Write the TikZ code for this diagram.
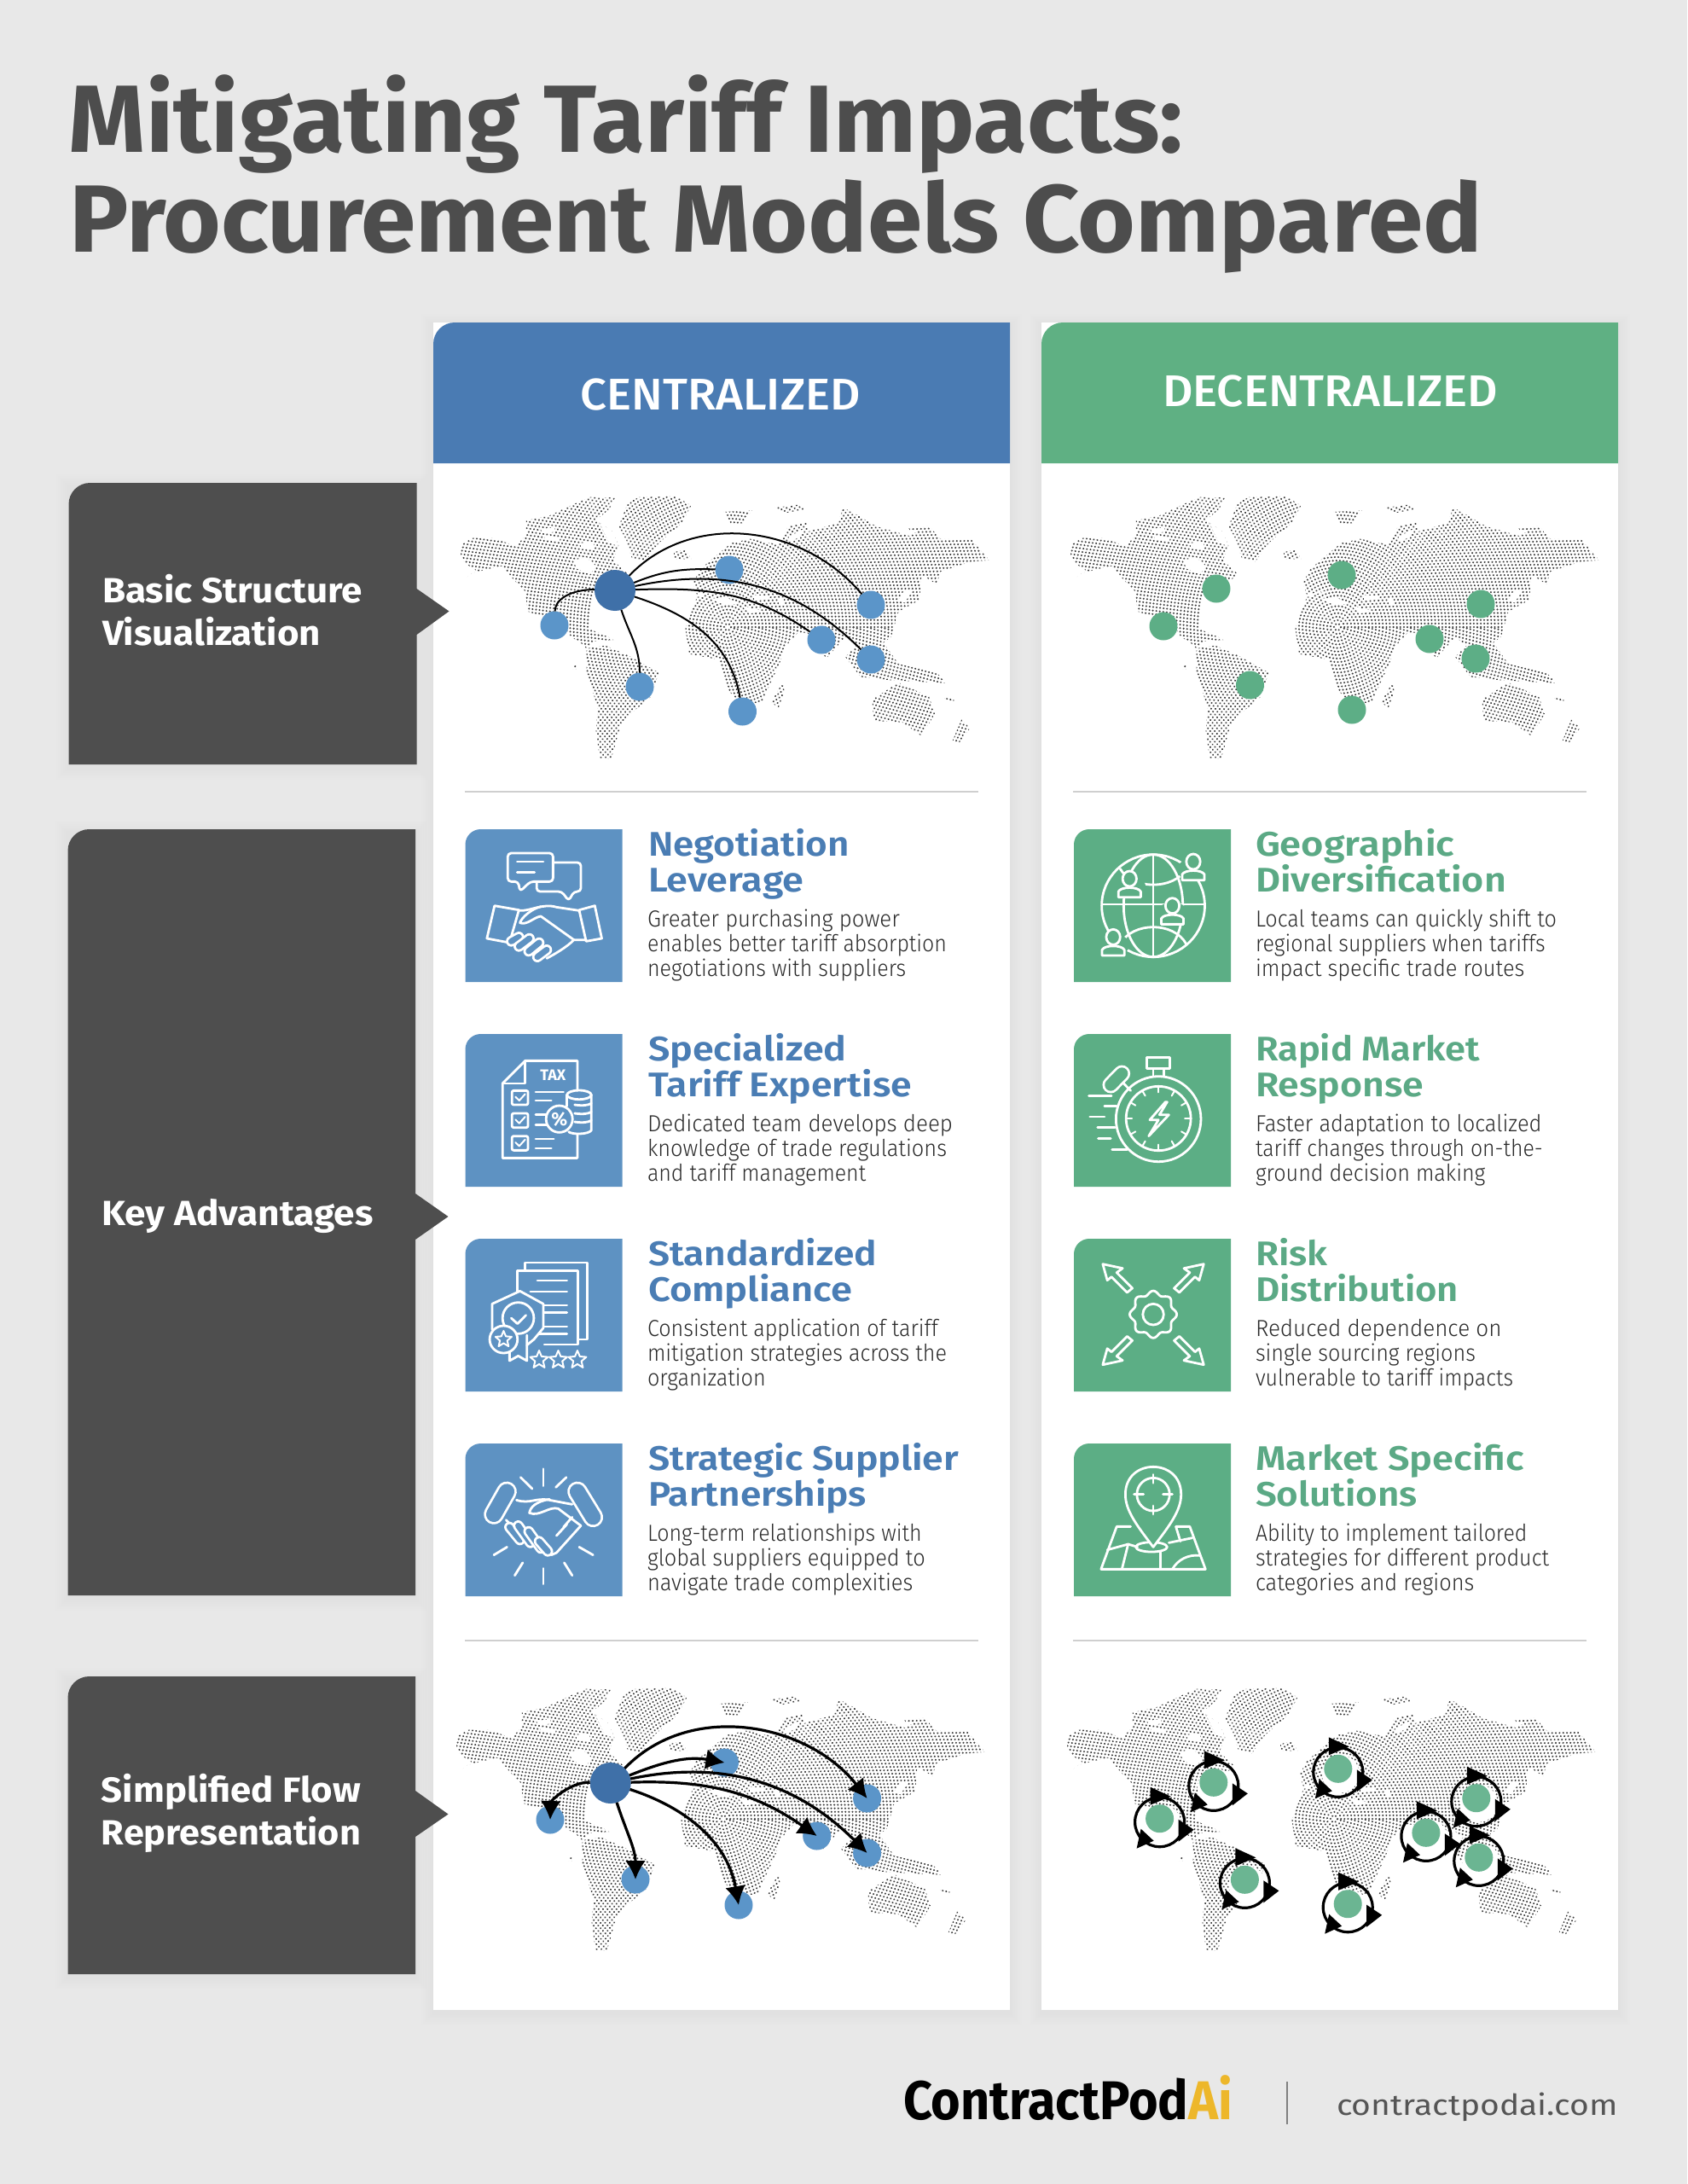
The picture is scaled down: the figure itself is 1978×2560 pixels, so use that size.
\documentclass[tikz,border=0pt]{standalone}
\usepackage{fontspec}
\usepackage{graphicx}
\usetikzlibrary{arrows.meta,calc}
\setmainfont{Fira Sans}
\newfontfamily\fBold{Fira Sans Bold}
\newfontfamily\fSemi{Fira Sans SemiBold}
\newfontfamily\fMed{Fira Sans Medium}
\newfontfamily\fLight{Fira Sans Light}
\newfontfamily\fReg{Fira Sans}
\definecolor{pagebg}{HTML}{E8E8E8}
\definecolor{darkbox}{HTML}{4E4E4E}
\definecolor{titlec}{HTML}{4D4D4D}
\definecolor{headB}{HTML}{4A7BB3}
\definecolor{headG}{HTML}{5FB083}
\definecolor{iconB}{HTML}{5E92C2}
\definecolor{iconG}{HTML}{5CAE85}
\definecolor{txtB}{HTML}{4A7DB4}
\definecolor{txtG}{HTML}{5BA985}
\definecolor{hubc}{HTML}{3F70A8}
\definecolor{leafB}{HTML}{5B95C9}
\definecolor{leafG}{HTML}{5DAE86}
\definecolor{leafG2}{HTML}{6BB592}
\definecolor{bodyc}{HTML}{2A2A2A}
\definecolor{sepc}{HTML}{CFCFCF}
\definecolor{logoy}{HTML}{EDB72A}
\definecolor{urlc}{HTML}{555555}
\definecolor{dotc}{HTML}{3C3C3C}
\tikzset{
  linetxt/.style={anchor=base west,inner sep=0pt,outer sep=0pt},
  ic/.style={draw=white,line width=1.4pt,line join=round,line cap=round},
  hubnode/.style={circle,fill=hubc,minimum size=24pt,inner sep=0pt,outer sep=0pt},
  leafblue/.style={circle,fill=leafB,minimum size=16.5pt,inner sep=0pt,outer sep=0pt},
  leafgreen/.style={circle,fill=leafG,minimum size=16.5pt,inner sep=0pt,outer sep=0pt},
  leafgreenb/.style={circle,fill=leafG2,minimum size=16.5pt,inner sep=0pt,outer sep=0pt},
  thinarc/.style={draw=black,line width=1pt},
  boldarc/.style={draw=black,line width=1.6pt,-{Latex[length=11pt,width=12pt]}},
  ringline/.style={draw=black,line width=1.6pt},
  landdots/.style={draw=dotc,line width=1.15pt,line cap=round,dash pattern=on 0.01pt off 2.05pt},
  sepline/.style={draw=sepc,line width=0.7pt},
}
\newcommand\fitw[2]{\setbox0=\hbox{#2}\pgfmathsetmacro\fitr{(#1)*0.5/\the\wd0}\scalebox{\fitr}[1]{\box0}}
\newcommand\placetxt[6]{\node[linetxt,#5] (#1) at (#2,#3) {\fitw{#4}{#6}};}
\newcommand\headBl[5]{\placetxt{#1}{#2}{#3}{#4/2.45}{text=txtB,font=\fSemi\fontsize{20}{24}\selectfont}{#5}}
\newcommand\headGr[5]{\placetxt{#1}{#2}{#3}{#4/2.45}{text=txtG,font=\fSemi\fontsize{20}{24}\selectfont}{#5}}
\newcommand\bodyln[5]{\placetxt{#1}{#2}{#3}{#4/2.45}{text=bodyc,font=\fLight\fontsize{13.6}{16}\selectfont}{#5}}
\newcommand\tlbox[6]{\fill[#1] (#2,#3+2*#6) arc[start angle=180,end angle=90,radius=#6 pt] -- (#4,#3) -- (#4,#5) -- (#2,#5) -- cycle;}
\newcommand\softshadow[5][0]{\foreach \k in {1,...,7}{\fill[black,opacity=0.0045] ($(#2,#3)+(-\k*2,-\k*2+4)$) rectangle ($(#4,#5)+(\k*2,\k*2+4)$);}}
\newcommand\worldmap[2]{%
 \begin{scope}[shift={(500+#1,560+#2)}]
  \begin{scope}[x=0.22321pt,y=-0.16667pt]
   \clip
   (90,235)--(120,212)--(175,212)--(235,240)--(262,200)--(262,150)--(320,135)--(375,100)--(430,68)--(495,70)--(480,110)--(445,150)--(490,190)--(505,240)--(490,290)--(530,340)--(510,360)--(470,370)--(440,400)--(430,450)--(425,530)--(495,570)--(440,575)--(420,600)--(405,580)--(380,560)--(360,520)--(310,490)--(265,470)--(260,400)--(230,360)--(200,310)--(165,320)--(120,335)--(90,365)--(130,325)--(100,300)--(90,270)--cycle
   (530,85)--(560,68)--(655,65)--(695,98)--(670,160)--(610,230)--(575,295)--(540,285)--(525,220)--(505,170)--cycle
   (420,600)--(470,590)--(530,625)--(610,685)--(590,770)--(545,820)--(510,870)--(485,990)--(455,985)--(445,890)--(450,810)--(420,680)--cycle
   (385,655)--(395,655)--(395,672)--(385,672)--cycle
   (680,530)--(710,420)--(770,395)--(830,410)--(870,460)--(960,490)--(975,545)--(945,590)--(925,660)--(880,790)--(820,795)--(790,740)--(770,640)--(690,620)--cycle
   (700,370)--(720,320)--(800,230)--(850,215)--(925,235)--(950,170)--(1000,155)--(1000,190)--(1080,160)--(1095,105)--(1130,130)--(1180,170)--(1270,205)--(1310,170)--(1325,178)--(1350,215)--(1430,215)--(1478,290)--(1430,295)--(1350,330)--(1340,375)--(1300,340)--(1295,430)--(1240,470)--(1220,560)--(1200,580)--(1240,655)--(1340,685)--(1365,722)--(1220,712)--(1140,700)--(1100,630)--(1130,590)--(1100,560)--(1050,635)--(1000,545)--(975,545)--(960,490)--(870,460)--(830,410)--(770,395)--(710,410)--cycle
   (1170,780)--(1240,720)--(1320,770)--(1335,830)--(1300,908)--(1250,860)--(1175,855)--cycle
   (1380,930)--(1405,850)--(1428,880)--(1400,930)--cycle
   (905,790)--(935,720)--(940,750)--(925,808)--cycle
   (650,262)--(680,250)--(695,285)--(650,287)--cycle
   (780,120)--(855,115)--(830,160)--(800,162)--cycle
   (915,105)--(975,95)--(995,110)--(940,125)--cycle
   (1265,175)--(1320,170)--(1320,182)--(1270,185)--cycle
   (1360,775)--(1385,775)--(1385,785)--(1360,785)--cycle;
   \begin{scope}[x=0.5pt,y=-0.5pt]
    \foreach \i in {1,...,90}{\draw[landdots] (353,175) circle[radius=\i*2.05pt];}
   \end{scope}
   \fill[white] (385,290)--(420,280)--(445,310)--(430,340)--(395,320)--cycle;
   \fill[white] (450,145)--(495,175)--(505,240)--(480,230)--cycle;
   \fill[white] (300,180)--(335,175)--(338,190)--(305,195)--cycle;
   \fill[white] (310,205)--(350,212)--(350,222)--(312,216)--cycle;
   \fill[white] (405,230)--(440,225)--(440,250)--(405,250)--cycle;
   \fill[white] (745,425)--(790,422)--(820,445)--(775,443)--cycle;
   \fill[white] (830,452)--(880,466)--(850,478)--cycle;
   \fill[white] (860,415)--(895,415)--(895,428)--(860,428)--cycle;
   \fill[white] (925,425)--(938,425)--(938,450)--(925,450)--cycle;
   \fill[white] (950,210)--(990,180)--(990,195)--(960,225)--cycle;
   \fill[white] (1255,395)--(1275,400)--(1255,440)--(1240,430)--cycle;
  \end{scope}
 \end{scope}}
\newcommand\icostar[3]{\draw[ic,line width=1pt] ([shift={(90:#3pt)}]#1,#2) \foreach \a/\r in {126/0.45,162/1,198/0.45,234/1,270/0.45,306/1,342/0.45,18/1,54/0.45}{-- ([shift={(\a:\r*#3pt)}]#1,#2)} -- cycle;}
\newcommand\greenring[3]{%
 \fill[white] (#2+3,#3+6) circle[radius=11pt];
 \node[leafgreenb] (#1) at (#2,#3) {};
 \begin{scope}[shift={(#1.center)}]
  \draw[ringline] (0,4) circle[radius=14.5pt];
  \fill[black] (-11,-37)--(-11,-16)--(13,-26)--cycle;
  \fill[black] (22,1)--(40,13)--(22,27)--cycle;
  \fill[black] (-27,35)--(-22,12)--(-7,26)--cycle;
 \end{scope}}
\newcommand\person[3]{% head x,y and scale 1
 \fill[iconG] (#1,#2+28) ellipse[x radius=46*#3,y radius=40*#3];
 \draw[ic,fill=iconG] (#1,#2) ellipse[x radius=20*#3,y radius=27*#3];
 \draw[ic] (#1-32*#3,#2+65*#3) -- (#1-32*#3,#2+45*#3) .. controls (#1-25*#3,#2+27*#3) and (#1+25*#3,#2+27*#3) .. (#1+32*#3,#2+45*#3) -- (#1+32*#3,#2+65*#3) -- cycle;}
\begin{document}
\begin{tikzpicture}[x=0.5pt,y=-0.5pt]
\useasboundingbox (0,0) rectangle (1978,2560);
\fill[pagebg] (0,0) rectangle (1978,2560);
% title
\placetxt{title1}{81}{178}{1306}{text=titlec,font=\fBold\fontsize{56}{60}\selectfont}{Mitigating Tariff Impacts:}
\placetxt{title2}{81}{295}{1657}{text=titlec,font=\fBold\fontsize{56}{60}\selectfont}{Procurement Models Compared}
% cards
\softshadow{508}{378}{1184}{2356}
\softshadow{1221}{378}{1897}{2356}
\fill[white] (508,378) rectangle (1184,2356);
\fill[white] (1221,378) rectangle (1897,2356);
\tlbox{headB}{508}{378}{1184}{543}{12.5}
\tlbox{headG}{1221}{378}{1897}{543}{12.5}
\placetxt{hdrC}{680.5}{480}{328}{text=white,font=\fMed\fontsize{26}{30}\selectfont}{CENTRALIZED}
\placetxt{hdrD}{1363}{476.5}{393}{text=white,font=\fMed\fontsize{26}{30}\selectfont}{DECENTRALIZED}
% left labels
\softshadow{80}{566}{488}{896}
\softshadow{79}{972}{487}{1870}
\softshadow{79}{1965}{487}{2314}
\fill[darkbox] (80.5,566+25) arc[start angle=180,end angle=90,radius=12.5pt] -- (488.5,566) -- (488.5,690) -- (526.5,716.5) -- (488.5,744) -- (488.5,896) -- (80.5,896) -- cycle;
\fill[darkbox] (79.5,972+25) arc[start angle=180,end angle=90,radius=12.5pt] -- (487,972) -- (487,1399) -- (525.5,1426) -- (487,1453) -- (487,1870) -- (79.5,1870) -- cycle;
\fill[darkbox] (79.5,1965+25) arc[start angle=180,end angle=90,radius=12.5pt] -- (487,1965) -- (487,2099) -- (525.5,2126.5) -- (487,2153) -- (487,2314) -- (79.5,2314) -- cycle;
\placetxt{lab1a}{120}{706.5}{305}{text=white,font=\fBold\fontsize{20.5}{24}\selectfont}{Basic Structure}
\placetxt{lab1b}{120}{756.5}{256}{text=white,font=\fBold\fontsize{20.5}{24}\selectfont}{Visualization}
\placetxt{lab2}{119.5}{1436}{318}{text=white,font=\fBold\fontsize{20.5}{24}\selectfont}{Key Advantages}
\placetxt{lab3a}{119}{2112.5}{304}{text=white,font=\fBold\fontsize{20.5}{24}\selectfont}{Simplified Flow}
\placetxt{lab3b}{119}{2162.5}{304}{text=white,font=\fBold\fontsize{20.5}{24}\selectfont}{Representation}
% separators
\coordinate (sl1a) at (545,928); \coordinate (sl1b) at (1147,928);
\coordinate (sr1a) at (1258,928); \coordinate (sr1b) at (1860,928);
\coordinate (sl2a) at (545,1923); \coordinate (sl2b) at (1147,1923);
\coordinate (sr2a) at (1258,1923); \coordinate (sr2b) at (1860,1923);
\draw[sepline] (sl1a)--(sl1b); \draw[sepline] (sr1a)--(sr1b);
\draw[sepline] (sl2a)--(sl2b); \draw[sepline] (sr2a)--(sr2b);
% maps
\worldmap{0}{0}
\worldmap{715}{0}
\worldmap{-5}{1397}
\worldmap{711}{1397}
% top-left network
\node[leafblue] (ta) at (650,733) {};
\node[leafblue] (tb) at (750,805) {};
\node[leafblue] (tc) at (870.5,834) {};
\node[leafblue] (td) at (855,668) {};
\node[leafblue] (te) at (1021,709) {};
\node[leafblue] (tf) at (963,750) {};
\node[leafblue] (tg) at (1021,773) {};
\node[hubnode] (th) at (721,692) {};
\draw[thinarc] (th) to[out=178,in=88,looseness=0.9] (ta);
\draw[thinarc] (th) to[out=-72,in=90] (tb);
\draw[thinarc] (th) to[out=-18,in=100] (tc);
\draw[thinarc] (th) to[out=22,in=178] (td);
\draw[thinarc] (th) to[out=46,in=130] (te);
\draw[thinarc] (th) to[out=2,in=145] (tf);
\draw[thinarc] (th) to[out=12,in=135] (tg);
% bottom-left network
\node[leafblue] (ba) at (645,2133) {};
\node[leafblue] (bb) at (745,2203) {};
\node[leafblue] (bc) at (866,2233) {};
\node[leafblue] (bd) at (849.5,2066) {};
\node[leafblue] (be) at (1016.6,2108) {};
\node[leafblue] (bf) at (957.7,2152) {};
\node[leafblue] (bg) at (1016.6,2172) {};
\node[hubnode] (bh) at (715.7,2090) {};
\draw[boldarc] (bh) to[out=178,in=88,looseness=0.9] (ba.center);
\draw[boldarc] (bh) to[out=-72,in=90] (bb.center);
\draw[boldarc] (bh) to[out=-18,in=100] (bc.center);
\draw[boldarc] (bh) to[out=22,in=170] (bd.center);
\draw[boldarc] (bh) to[out=46,in=128] (be.center);
\draw[boldarc] (bh) to[out=2,in=145] (bf.center);
\draw[boldarc] (bh) to[out=12,in=135] (bg.center);
% top-right leaves
\node[leafgreen] (ra) at (1364,734) {};
\node[leafgreen] (rb) at (1426,690) {};
\node[leafgreen] (rc) at (1465.5,803) {};
\node[leafgreen] (rd) at (1573,674) {};
\node[leafgreen] (re) at (1585,832) {};
\node[leafgreen] (rf) at (1676,749) {};
\node[leafgreen] (rg) at (1736,708) {};
\node[leafgreen] (rh) at (1730,772) {};
% bottom-right rings
\greenring{qa}{1359.6}{2131.7}
\greenring{qb}{1422.8}{2089.3}
\greenring{qc}{1459.4}{2203.3}
\greenring{qd}{1568.8}{2073.3}
\greenring{qe}{1580.2}{2231.7}
\greenring{qf}{1671.9}{2148.3}
\greenring{qg}{1730.8}{2107.7}
\greenring{qh}{1733.8}{2177.3}
% icon squares
\foreach \yy in {972,1212,1452,1692}{
  \tlbox{iconB}{545.5}{\yy}{729.5}{\yy+179}{9}
  \tlbox{iconG}{1259}{\yy}{1443}{\yy+179}{9}
}
% left headings and bodies
\headBl{h1a}{760}{1003}{577}{Negotiation}
\headBl{h1b}{760}{1045}{447}{Leverage}
\bodyln{b1a}{759}{1086}{725}{Greater purchasing power}
\bodyln{b1b}{759}{1115}{860}{enables better tariff absorption}
\bodyln{b1c}{759}{1144}{743}{negotiations with suppliers}
\headBl{h2a}{760}{1243}{570}{Specialized}
\headBl{h2b}{760}{1285}{757}{Tariff Expertise}
\bodyln{b2a}{759}{1326}{877}{Dedicated team develops deep}
\bodyln{b2b}{759}{1355}{860}{knowledge of trade regulations}
\bodyln{b2c}{759}{1384}{628}{and tariff management}
\headBl{h3a}{760}{1483}{657}{Standardized}
\headBl{h3b}{760}{1525}{587}{Compliance}
\bodyln{b3a}{759}{1566}{835}{Consistent application of tariff}
\bodyln{b3b}{759}{1595}{860}{mitigation strategies across the}
\bodyln{b3c}{759}{1624}{340}{organization}
\headBl{h4a}{760}{1723}{892}{Strategic Supplier}
\headBl{h4b}{760}{1765}{627}{Partnerships}
\bodyln{b4a}{759}{1806}{788}{Long-term relationships with}
\bodyln{b4b}{759}{1835}{798}{global suppliers equipped to}
\bodyln{b4c}{759}{1864}{763}{navigate trade complexities}
% right headings and bodies
\headGr{g1a}{1472}{1003}{572}{Geographic}
\headGr{g1b}{1472}{1045}{720}{Diversification}
\bodyln{c1a}{1472}{1086}{865}{Local teams can quickly shift to}
\bodyln{c1b}{1472}{1115}{832}{regional suppliers when tariffs}
\bodyln{c1c}{1472}{1144}{773}{impact specific trade routes}
\headGr{g2a}{1472}{1243}{645}{Rapid Market}
\headGr{g2b}{1472}{1285}{483}{Response}
\bodyln{c2a}{1472}{1326}{822}{Faster adaptation to localized}
\bodyln{c2b}{1472}{1355}{825}{tariff changes through on-the-}
\bodyln{c2c}{1472}{1384}{660}{ground decision making}
\headGr{g3a}{1472}{1483}{207}{Risk}
\headGr{g3b}{1472}{1525}{583}{Distribution}
\bodyln{c3a}{1472}{1566}{707}{Reduced dependence on}
\bodyln{c3b}{1472}{1595}{632}{single sourcing regions}
\bodyln{c3c}{1472}{1624}{740}{vulnerable to tariff impacts}
\headGr{g4a}{1472}{1723}{772}{Market Specific}
\headGr{g4b}{1472}{1765}{465}{Solutions}
\bodyln{c4a}{1472}{1806}{780}{Ability to implement tailored}
\bodyln{c4b}{1472}{1835}{843}{strategies for different product}
\bodyln{c4c}{1472}{1864}{628}{categories and regions}
% ICONS, left column, top two
\begin{scope}[shift={(530,950)},x=0.20408pt,y=-0.16667pt]
 % handshake + bubbles
 \draw[ic,rounded corners=2pt] (160,150)--(290,150)--(290,250)--(225,250)--(195,285)--(190,250)--(160,250)--cycle;
 \draw[ic] (187,180)--(262,180); \draw[ic] (187,217)--(237,217);
 \draw[ic,rounded corners=2pt] (290,183)--(370,183)--(370,285)--(350,285)--(335,318)--(315,285)--(243,285)--(243,250);
 \draw[ic] (122,335)--(192,350)--(165,465)--(100,450)--cycle;
 \draw[ic] (365,350)--(410,335)--(430,450)--(385,460)--cycle;
 \draw[ic] (192,352) .. controls (225,355) and (260,325) .. (300,340) -- (365,352);
 \draw[ic] (255,338) .. controls (230,345) and (200,375) .. (195,395) .. controls (215,405) and (235,375) .. (255,372) -- (350,455);
 \draw[ic] (385,455) -- (350,455) .. controls (330,480) and (295,505) .. (272,520);
 \foreach \xa/\ya/\xb/\yb in {170/460/192/445, 192/478/222/450, 220/495/250/465, 245/515/272/490}{
   \draw[ic,double=iconB,double distance=3.5pt] (\xa,\ya)--(\xb,\yb);}
 % tax doc
 \draw[ic] (360,985)--(360,880)--(210,880)--(145,960)--(145,1222)--(360,1222)--(360,1140);
 \draw[ic] (145,960)--(210,960)--(210,880);
 \node[text=white,inner sep=0pt,font=\fBold\fontsize{9}{10}\selectfont] (taxl) at (290,930) {TAX};
 \foreach \yy in {985,1065,1145}{
   \draw[ic,rounded corners=1pt] (172,\yy) rectangle (218,\yy+50);
   \draw[ic,line width=1pt] (182,\yy+22)--(193,\yy+35)--(210,\yy+12);}
 \foreach \xa/\ya/\xb in {240/990/320,240/1020/285,240/1070/275,240/1105/275,240/1155/292,240/1188/285}{
   \draw[ic] (\xa,\ya)--(\xb,\ya);}
 \draw[ic] (365,1000) ellipse[x radius=35,y radius=16];
 \draw[ic] (400,1000)--(400,1125) .. controls (390,1140) and (345,1140) .. (335,1130);
 \draw[ic] (330,1000)--(330,1040);
 \foreach \yy in {1035,1065,1095}{\draw[ic] (352,\yy) .. controls (375,\yy+4) and (390,\yy+2) .. (400,\yy-5);}
 \draw[ic,fill=iconB] (308,1085) ellipse[x radius=38,y radius=47];
 \node[text=white,inner sep=0pt,font=\fBold\fontsize{11}{12}\selectfont] (pctl) at (308,1085) {\%};
\end{scope}
\begin{scope}[shift={(530,1430)},x=0.20408pt,y=-0.16667pt]
 % compliance
 \draw[ic] (210,178)--(210,150)--(388,150)--(388,420)--(365,420);
 \draw[ic] (188,265)--(188,178)--(362,178)--(362,438)--(265,438);
 \foreach \xa/\ya in {245/213,225/252,265/300,265/325,260/375,245/400}{\draw[ic] (\xa,\ya)--(330,\ya);}
 \draw[ic,fill=iconB] (115,385)--(115,295)--(195,250)--(262,295)--(262,380)--(235,420)--(215,440);
 \draw[ic] (190,345) ellipse[x radius=45,y radius=55];
 \draw[ic] (170,345)--(188,365)--(212,335);
 \draw[ic] (165,465)--(165,495)--(190,478)--(215,495)--(215,405);
 \draw[ic,fill=iconB] (148,420) ellipse[x radius=40,y radius=48];
 \icostar{148}{420}{5}
 \icostar{250}{492}{5.5}
 \icostar{305}{492}{5.5}
 \icostar{360}{492}{5.5}
 % partnerships
 \foreach \xa/\ya/\xb/\yb in {262/875/262/935,197/905/230/945,328/905/298/940,120/1178/158/1150,405/1178/365/1150,180/1250/203/1205,345/1250/322/1205,262/1225/262/1280}{
   \draw[ic] (\xa,\ya)--(\xb,\yb);}
 \draw[ic,double=iconB,double distance=9pt] (157,955)--(120,1035);
 \draw[ic,double=iconB,double distance=9pt] (360,955)--(405,1045);
 \draw[ic] (185,985) .. controls (225,1000) and (240,975) .. (280,985) -- (345,1000);
 \draw[ic] (280,982) .. controls (240,990) and (225,1010) .. (222,1030) .. controls (250,1045) and (280,1005) .. (305,1015) -- (370,1075);
 \draw[ic] (155,1055)--(180,1085);
 \draw[ic] (370,1075)--(300,1170)--(285,1178);
 \foreach \xa/\ya/\xb/\yb in {165/1080/195/1125,190/1075/225/1135,220/1095/255/1155,250/1130/275/1165}{
   \draw[ic,double=iconB,double distance=3.5pt] (\xa,\ya)--(\xb,\yb);}
 \draw[ic] (320,1080)--(345,1045); \draw[ic] (300,1110)--(330,1070);
\end{scope}
% ICONS, right column
\begin{scope}[shift={(1250,950)},x=0.20408pt,y=-0.16667pt]
 % globe
 \draw[ic] (250,335) ellipse[x radius=148,y radius=180];
 \draw[ic] (250,335) ellipse[x radius=85,y radius=180];
 \draw[ic] (250,155)--(250,515);
 \draw[ic] (105,330)--(395,330);
 \draw[ic] (155,205) .. controls (190,280) and (310,280) .. (345,205);
 \draw[ic] (155,470) .. controls (190,390) and (310,390) .. (345,470);
 \person{182}{240}{1}
 \person{305}{335}{1}
 \person{365}{180}{1}
 \person{135}{445}{1}
 % stopwatch
 \draw[ic] (232,868) rectangle (297,908);
 \draw[ic] (250,908)--(250,935); \draw[ic] (280,908)--(280,935);
 \draw[ic,double=iconG,double distance=7pt] (128,965)--(160,925);
 \draw[ic] (165,960)--(185,985);
 \draw[ic] (265,1085) ellipse[x radius=122,y radius=150];
 \draw[ic] (265,1083) ellipse[x radius=93,y radius=113];
 \foreach \a in {0,30,...,330}{\draw[ic,line width=1pt] ({265+93*cos(\a)},{1083+113*sin(\a)})--({265+76*cos(\a)},{1083+92*sin(\a)});}
 \draw[ic] (285,1025)--(240,1088)--(265,1088)--(237,1145)--(295,1070)--(268,1070)--(290,1025)--cycle;
 \foreach \xa/\ya/\xb in {65/1003/130,110/1040/145,68/1077/110,90/1115/140,92/1153/128,132/1193/175}{
   \draw[ic] (\xa,\ya)--(\xb,\ya);}
\end{scope}
\begin{scope}[shift={(1250,1430)},x=0.20408pt,y=-0.16667pt]
 % risk
 \draw[ic] plot[domain=0:360,samples=97,smooth] ({250+62*(1+0.09*cos(8*\x))*cos(\x)},{332+76*(1+0.09*cos(8*\x))*sin(\x)});
 \draw[ic] (250,332) ellipse[x radius=30,y radius=37];
 \draw[ic] (105,155)--(162,170)--(145,185)--(190,240)--(175,255)--(130,200)--(118,212)--cycle;
 \draw[ic] (395,155)--(338,170)--(355,185)--(310,240)--(325,255)--(370,200)--(382,212)--cycle;
 \draw[ic] (105,509)--(162,494)--(145,479)--(190,424)--(175,409)--(130,464)--(118,452)--cycle;
 \draw[ic] (395,509)--(338,494)--(355,479)--(310,424)--(325,409)--(370,464)--(382,452)--cycle;
 % market pin + map
 \draw[ic] (185,1078)--(145,1078)--(100,1228)--(400,1228)--(355,1078)--(315,1078);
 \draw[ic] (160,1228)--(178,1140)--(205,1150);
 \draw[ic] (118,1160)--(178,1140);
 \draw[ic] (270,1168)--(270,1228);
 \draw[ic] (305,1228) .. controls (320,1195) and (350,1175) .. (385,1180);
 \draw[ic] (315,1078)--(328,1130);
 \draw[ic] (295,1135)--(362,1118);
 \draw[ic] (245,1150) ellipse[x radius=45,y radius=17];
 \draw[ic,fill=iconG] (250,1150) .. controls (200,1070) and (170,1020) .. (170,965) .. controls (170,900) and (210,868) .. (250,868) .. controls (290,868) and (330,900) .. (330,965) .. controls (330,1020) and (300,1070) .. (250,1150) -- cycle;
 \draw[ic] (250,965) ellipse[x radius=47,y radius=58];
 \draw[ic] (250,895)--(250,925); \draw[ic] (250,1005)--(250,1035); \draw[ic] (195,965)--(222,965); \draw[ic] (278,965)--(305,965);
\end{scope}
% footer
\placetxt{logo}{1059}{2484}{386}{text=black,font=\fBold\fontsize{32}{36}\selectfont}{ContractPod\textcolor{logoy}{Ai}}
\coordinate (fa) at (1509,2440); \coordinate (fb) at (1509,2490);
\draw[draw=black!50,line width=0.6pt] (fa)--(fb);
\placetxt{url}{1567}{2479}{330}{text=urlc,font=\fReg\fontsize{17}{20}\selectfont}{contractpodai.com}
\end{tikzpicture}
\end{document}
